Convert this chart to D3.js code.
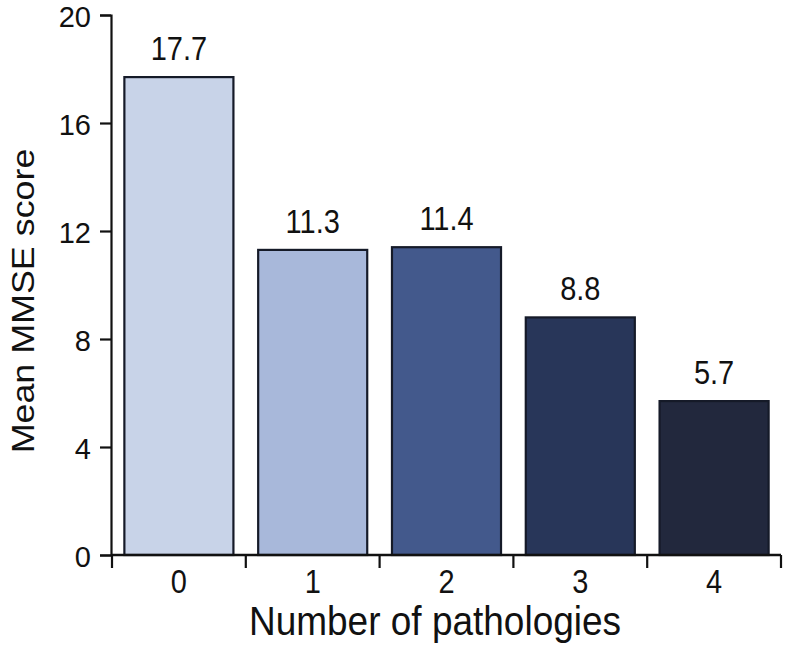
<!DOCTYPE html>
<html><head><meta charset="utf-8">
<script src="https://cdn.jsdelivr.net/npm/d3@7"></script>
<style>body{margin:0;background:#fff}svg{display:block}</style>
</head><body>
<script>
const categories = ["0","1","2","3","4"];
const values = [17.7, 11.3, 11.4, 8.8, 5.7];
const valueLabels = ["17.7","11.3","11.4","8.8","5.7"];
const barColors = ["#c8d3e8","#a8b8da","#43598c","#283659","#22283d"];
const yTicks = [0,4,8,12,16,20];

const W = 788, H = 651;
const svg = d3.select("body").append("svg").attr("width", W).attr("height", H);
const font = "Arial, 'Liberation Sans', sans-serif";
const SY = 1.12;

const x = d3.scaleBand().domain(categories).range([112, 781]).paddingInner(0.185).paddingOuter(0.0925);
const y = d3.scaleLinear().domain([0,20]).range([555, 15]);

svg.selectAll("rect.bar").data(values).join("rect")
  .attr("x", (d,i)=>x(categories[i]))
  .attr("y", d=>y(d))
  .attr("width", x.bandwidth())
  .attr("height", d=>y(0)-y(d))
  .attr("fill", (d,i)=>barColors[i])
  .attr("stroke", "#151a28").attr("stroke-width", 2.2);

svg.selectAll("text.val").data(values).join("text")
  .attr("transform", (d,i)=>`translate(${x(categories[i])+x.bandwidth()/2},${y(d)-17}) scale(1,${SY})`)
  .attr("text-anchor","middle")
  .attr("font-family", font).attr("font-size", 29).attr("fill","#111")
  .text((d,i)=>valueLabels[i]);

// y axis
const yAxis = svg.append("g").attr("transform","translate(111,0)")
  .call(d3.axisLeft(y).tickValues(yTicks).tickSize(11).tickPadding(9));
yAxis.select(".domain").attr("stroke","#111").attr("stroke-width",2.2);
yAxis.selectAll(".tick line").attr("stroke","#111").attr("stroke-width",2.2);
yAxis.selectAll(".tick text").attr("font-family",font).attr("font-size",29).attr("fill","#111")
  .attr("dy","0.4em");

// x axis: band edges as ticks
const edges = [x.range()[0]].concat(categories.map(c=>x(c)+x.bandwidth()+x.step()*x.paddingInner()/2));
edges[edges.length-1] = x.range()[1];
const xg = svg.append("g");
xg.append("line").attr("x1", 111).attr("x2", x.range()[1]).attr("y1", y(0)).attr("y2", y(0))
  .attr("stroke","#111").attr("stroke-width",2.4);
xg.selectAll("line.t").data(edges).join("line")
  .attr("x1",d=>d).attr("x2",d=>d).attr("y1",y(0)).attr("y2",y(0)+13)
  .attr("stroke","#111").attr("stroke-width",2.2);
xg.selectAll("text").data(categories).join("text")
  .attr("transform", c=>`translate(${x(c)+x.bandwidth()/2},593) scale(1,${SY})`)
  .attr("text-anchor","middle").attr("font-family",font).attr("font-size",29).attr("fill","#111")
  .text(c=>c);

svg.append("text").attr("transform",`translate(435,635) scale(1,${SY})`).attr("text-anchor","middle")
  .attr("font-family",font).attr("font-size",37).attr("fill","#111").text("Number of pathologies");
svg.append("text").attr("transform",`translate(34,301) rotate(-90) scale(${SY},1)`).attr("text-anchor","middle")
  .attr("font-family",font).attr("font-size",32).attr("fill","#111").text("Mean MMSE score");
</script>
</body></html>
